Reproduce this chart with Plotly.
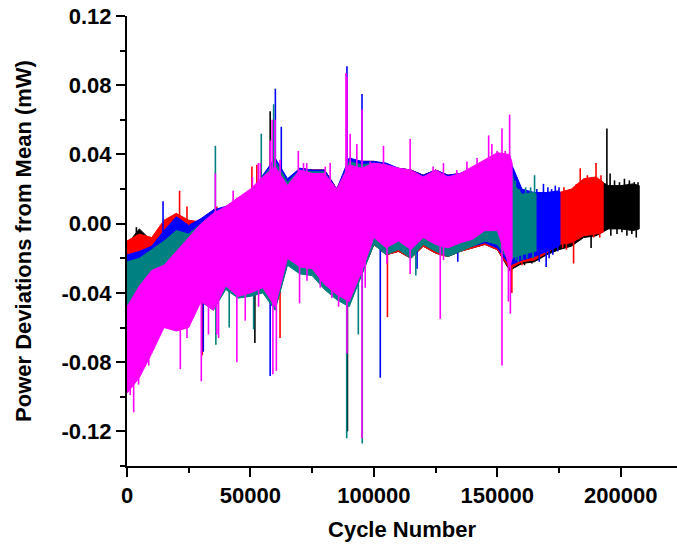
import numpy as np
import plotly.graph_objects as go

# ---------------- data ----------------
x_tick_vals = [0, 50000, 100000, 150000, 200000]
x_tick_text = ["0", "50000", "100000", "150000", "200000"]
y_tick_vals = [-0.12, -0.08, -0.04, 0.00, 0.04, 0.08, 0.12]
y_tick_text = ["-0.12", "-0.08", "-0.04", "0.00", "0.04", "0.08", "0.12"]

grid = [0, 5000, 10000, 15000, 20000, 25000, 30000, 35000, 40000, 45000,
        50000, 55000, 60000, 65000, 70000, 75000, 80000, 85000, 90000, 95000,
        100000, 105000, 110000, 115000, 120000, 125000, 130000, 135000, 140000,
        145000, 150000, 155000, 160000, 165000, 170000, 175000, 180000, 185000,
        190000, 195000, 200000, 205000]

# ---- magenta (run ends at 156000)
magenta_cycles = grid[:32] + [156000]
magenta_upper = [-0.048, -0.036, -0.027, -0.024, -0.016, -0.008, 0.000, 0.006, 0.010, 0.015,
                 0.020, 0.027, 0.033, 0.022, 0.031, 0.029, 0.029, 0.020, 0.034, 0.032,
                 0.035, 0.034, 0.032, 0.031, 0.027, 0.031, 0.027, 0.029, 0.033, 0.037,
                 0.041, 0.040, 0.035]
magenta_lower = [-0.098, -0.089, -0.075, -0.060, -0.062, -0.060, -0.045, -0.050, -0.036, -0.042,
                 -0.040, -0.037, -0.048, -0.020, -0.025, -0.026, -0.035, -0.041, -0.045, -0.028,
                 -0.008, -0.014, -0.010, -0.015, -0.008, -0.012, -0.014, -0.011, -0.009, -0.004,
                 -0.004, -0.025, -0.020]
magenta_spike_x = [35800, 43000, 50800, 53200, 54000, 58000, 58800, 60000, 62000, 68800,
                   69400, 71500, 72800, 80300, 82300, 88700, 89100, 90400, 93100, 95200,
                   98500, 99200, 103900, 114700, 124000, 128200, 133600, 137700, 141800, 146500,
                   147800, 149900, 151900, 153200, 155000,
                   1300, 2700, 4700, 6100, 8800, 10800, 21600, 24300, 30100, 33000,
                   36400, 37100, 44500, 47900, 53300, 59100, 60500, 69900, 72900, 78300,
                   83000, 85700, 89100, 95200, 96500, 105300, 114700, 126900, 128200, 151900,
                   154500, 155300]
magenta_spike_y = [0.029, 0.019, 0.027, 0.035, 0.035, 0.048, 0.060, 0.060, 0.037, 0.029,
                   0.042, 0.035, 0.035, 0.033, 0.035, 0.087, 0.085, 0.052, 0.046, 0.066,
                   0.036, 0.035, 0.045, 0.049, 0.033, 0.035, 0.031, 0.036, 0.038, 0.051,
                   0.046, 0.042, 0.055, 0.042, 0.063,
                   -0.099, -0.109, -0.093, -0.083, -0.082, -0.068, -0.084, -0.066, -0.091, -0.064,
                   -0.064, -0.066, -0.080, -0.056, -0.048, -0.087, -0.085, -0.046, -0.033, -0.037,
                   -0.043, -0.048, -0.075, -0.124, -0.037, -0.023, -0.029, -0.055, -0.021, -0.082,
                   -0.045, -0.052]

# ---- teal (run ends at 165700)
teal_cycles = grid[:31] + [155000, 157000, 160000, 165000, 165700]
teal_upper = [-0.022, -0.020, -0.015, -0.010, -0.004, -0.006, 0.000, 0.004, 0.008, 0.010,
              0.019, 0.027, 0.036, 0.024, 0.031, 0.030, 0.030, 0.018, 0.036, 0.034,
              0.035, 0.034, 0.031, 0.030, 0.027, 0.030, 0.027, 0.028, 0.031, 0.034,
              0.036, 0.038, 0.022, 0.017, 0.018, 0.017]
teal_lower = [-0.090, -0.080, -0.068, -0.058, -0.058, -0.056, -0.045, -0.050, -0.038, -0.043,
              -0.042, -0.040, -0.050, -0.024, -0.029, -0.030, -0.038, -0.044, -0.048, -0.030,
              -0.012, -0.018, -0.015, -0.020, -0.012, -0.016, -0.019, -0.016, -0.013, -0.010,
              -0.012, -0.022, -0.019, -0.018, -0.016, -0.016]
teal_spike_x = [35800, 54400, 59400, 156500, 157300, 159000, 161500, 163500, 165100,
                89000, 95300, 36000, 41400, 51300, 93700, 117000,
                157500, 158500, 160000, 162000, 164500]
teal_spike_y = [0.045, 0.052, 0.069, 0.026, 0.025, 0.020, 0.021, 0.021, 0.028,
                -0.124, -0.127, -0.070, -0.060, -0.061, -0.064, -0.030,
                -0.021, -0.022, -0.021, -0.020, -0.020]

# ---- blue (run ends at 175400)
blue_cycles = grid[:36] + [175400]
blue_upper = [-0.018, -0.016, -0.013, -0.004, 0.004, -0.001, 0.003, 0.008, 0.010, 0.012,
              0.017, 0.028, 0.038, 0.026, 0.032, 0.031, 0.031, 0.020, 0.038, 0.036,
              0.036, 0.035, 0.032, 0.031, 0.028, 0.031, 0.028, 0.029, 0.032, 0.035,
              0.037, 0.037, 0.020, 0.018, 0.018, 0.019, 0.018]
blue_lower = [-0.088, -0.078, -0.066, -0.056, -0.056, -0.054, -0.044, -0.049, -0.037, -0.042,
              -0.041, -0.039, -0.049, -0.023, -0.028, -0.029, -0.037, -0.043, -0.047, -0.029,
              -0.011, -0.017, -0.014, -0.019, -0.011, -0.015, -0.018, -0.015, -0.013, -0.011,
              -0.014, -0.024, -0.021, -0.019, -0.016, -0.013, -0.012]
blue_spike_x = [14600, 60100, 62500, 89100, 95200, 166000, 168700, 170500, 172000, 173500, 175000,
                30900, 58000, 102600, 167000, 169800, 171000, 172500, 174500, 117500, 134000]
blue_spike_y = [0.013, 0.078, 0.056, 0.091, 0.075, 0.020, 0.023, 0.021, 0.020, 0.022, 0.021,
                -0.074, -0.088, -0.089, -0.022, -0.025, -0.020, -0.018, -0.016, -0.026, -0.022]

# ---- red (run ends at 192900)
red_cycles = grid[:39] + [192900]
red_upper = [-0.010, -0.006, -0.008, 0.002, 0.006, 0.002, 0.001, 0.008, 0.009, 0.012,
             0.015, 0.027, 0.036, 0.025, 0.032, 0.031, 0.031, 0.020, 0.036, 0.036,
             0.036, 0.034, 0.032, 0.031, 0.028, 0.031, 0.028, 0.029, 0.032, 0.035,
             0.037, 0.036, 0.018, 0.018, 0.018, 0.018, 0.020, 0.026, 0.027, 0.024]
red_lower = [-0.088, -0.078, -0.066, -0.056, -0.056, -0.054, -0.044, -0.049, -0.037, -0.042,
             -0.041, -0.039, -0.049, -0.023, -0.028, -0.029, -0.037, -0.043, -0.047, -0.029,
             -0.012, -0.018, -0.016, -0.020, -0.013, -0.017, -0.019, -0.016, -0.014, -0.012,
             -0.015, -0.026, -0.022, -0.021, -0.017, -0.012, -0.011, -0.007, -0.006, -0.005]
red_spike_x = [21300, 24300, 36400, 41800, 44500, 50600, 52600,
               177000, 179500, 182000, 183600, 186500, 188500, 190000, 192000,
               30500, 62000, 105500, 155900, 160000,
               176500, 178000, 180900, 183000, 189000, 191500]
red_spike_y = [0.019, 0.010, 0.010, 0.012, 0.015, 0.033, 0.034,
               0.021, 0.020, 0.023, 0.032, 0.028, 0.027, 0.035, 0.028,
               -0.076, -0.066, -0.054, -0.040, -0.024,
               -0.014, -0.015, -0.023, -0.009, -0.008, -0.008]

# ---- black (run ends at 207500)
black_cycles = grid + [207500]
black_upper = [-0.012, -0.003, -0.010, -0.003, 0.004, 0.000, 0.001, 0.008, 0.008, 0.010,
               0.014, 0.026, 0.036, 0.025, 0.032, 0.031, 0.031, 0.020, 0.036, 0.036,
               0.036, 0.034, 0.032, 0.031, 0.028, 0.031, 0.028, 0.029, 0.032, 0.035,
               0.037, 0.036, 0.017, 0.017, 0.017, 0.017, 0.018, 0.025, 0.026, 0.022,
               0.022, 0.023, 0.022]
black_lower = [-0.088, -0.078, -0.066, -0.056, -0.056, -0.054, -0.044, -0.049, -0.037, -0.042,
               -0.041, -0.039, -0.049, -0.023, -0.028, -0.029, -0.037, -0.043, -0.047, -0.029,
               -0.012, -0.018, -0.016, -0.020, -0.013, -0.017, -0.019, -0.016, -0.014, -0.012,
               -0.015, -0.027, -0.023, -0.022, -0.018, -0.015, -0.013, -0.008, -0.007, -0.003,
               -0.003, -0.004, -0.003]
black_spike_x = [3800, 58000, 194400, 195700, 197500, 199500, 201500, 203500, 205500, 207000,
                 51800, 89300, 161000, 164000, 188000, 196000, 198500, 200500, 202500, 204500, 206300]
black_spike_y = [-0.002, 0.065, 0.055, 0.029, 0.025, 0.024, 0.026, 0.025, 0.024, 0.024,
                 -0.069, -0.120, -0.024, -0.023, -0.014, -0.007, -0.006, -0.005, -0.007, -0.006, -0.008]

series = [
    ("black", "#000000", black_cycles, black_upper, black_lower, black_spike_x, black_spike_y),
    ("red", "#FF0000", red_cycles, red_upper, red_lower, red_spike_x, red_spike_y),
    ("blue", "#0000FF", blue_cycles, blue_upper, blue_lower, blue_spike_x, blue_spike_y),
    ("teal", "#008080", teal_cycles, teal_upper, teal_lower, teal_spike_x, teal_spike_y),
    ("magenta", "#FF00FF", magenta_cycles, magenta_upper, magenta_lower, magenta_spike_x, magenta_spike_y),
]

# ---------------- figure ----------------
fig = go.Figure()
for name, color, cyc, up, lo, sx, sy in series:
    fig.add_trace(go.Scatter(
        x=list(cyc) + list(cyc)[::-1],
        y=list(up) + list(lo)[::-1],
        fill="toself", fillcolor=color, mode="lines",
        line=dict(color=color, width=1), hoverinfo="skip", showlegend=False))
    mid = (np.array(up) + np.array(lo)) / 2.0
    xs, ys = [], []
    for px_, py_ in zip(sx, sy):
        base = float(np.interp(px_, cyc, mid))
        xs += [px_, px_, None]
        ys += [base, py_, None]
    fig.add_trace(go.Scatter(x=xs, y=ys, mode="lines",
                             line=dict(color=color, width=1.6),
                             hoverinfo="skip", showlegend=False))

font_family = "Liberation Sans, Arial, sans-serif"
fig.update_layout(
    width=677, height=548,
    margin=dict(l=127, r=0, t=16, b=82),
    paper_bgcolor="white", plot_bgcolor="white",
    showlegend=False,
    font=dict(family=font_family, color="black"),
)
fig.update_xaxes(
    range=[0, 222800], showgrid=False, zeroline=False,
    showline=True, linecolor="black", linewidth=2,
    ticks="outside", ticklen=9, tickwidth=2, tickcolor="black",
    tickvals=x_tick_vals, ticktext=x_tick_text,
    tickfont=dict(family=font_family, size=22, weight="bold"),
    minor=dict(dtick=25000, ticks="outside", ticklen=5, tickwidth=2, tickcolor="black"),
    title=dict(text="Cycle Number", font=dict(family=font_family, size=22, weight="bold"), standoff=14),
)
fig.update_yaxes(
    range=[-0.14, 0.12], showgrid=False, zeroline=False,
    showline=True, linecolor="black", linewidth=2,
    ticks="outside", ticklen=9, tickwidth=2, tickcolor="black",
    tickvals=y_tick_vals, ticktext=y_tick_text,
    tickfont=dict(family=font_family, size=22, weight="bold"),
    minor=dict(dtick=0.02, ticks="outside", ticklen=5, tickwidth=2, tickcolor="black"),
    title=dict(text="Power Deviations from Mean (mW)", font=dict(family=font_family, size=22, weight="bold"), standoff=24),
)
fig.write_html("out.html")
